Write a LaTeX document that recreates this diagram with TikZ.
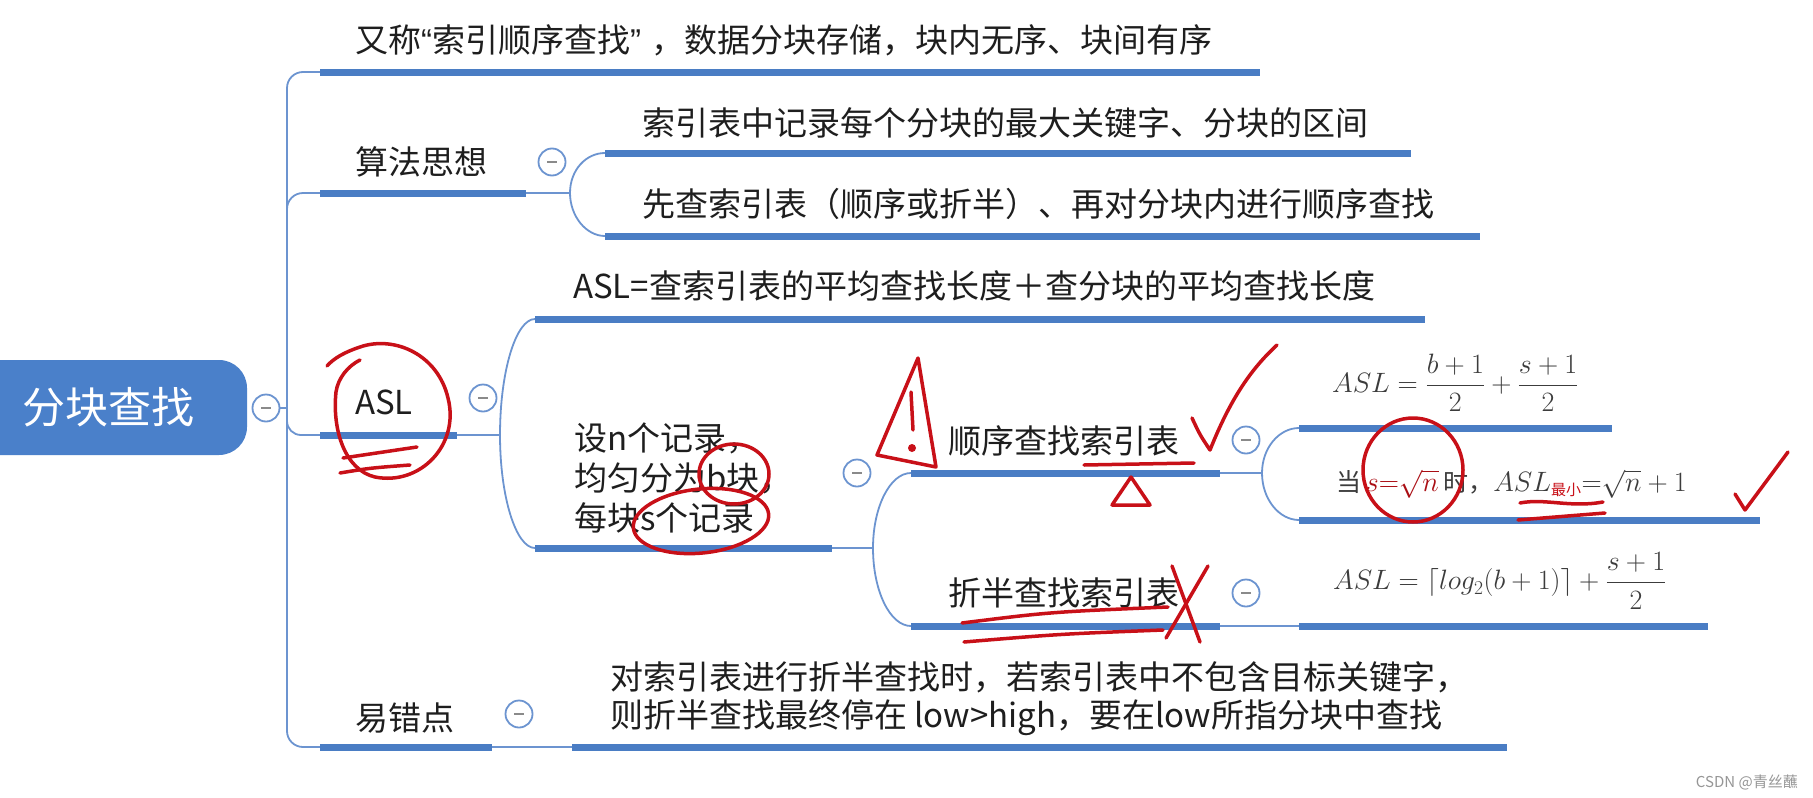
\RequirePackage{fix-cm}
\documentclass[tikz,border=0pt]{standalone}
\usepackage{amsmath}
\usepackage{fontspec}
\newfontfamily\cjk{Noto Sans CJK SC}
\newfontfamily\lat{Liberation Sans}
\definecolor{ublue}{RGB}{74,125,196}
\definecolor{cblue}{RGB}{108,148,208}
\definecolor{rootblue}{RGB}{74,128,202}
\definecolor{tcol}{RGB}{30,30,30}
\definecolor{fgrey}{RGB}{60,60,60}
\definecolor{annred}{RGB}{200,16,24}
\definecolor{wmgrey}{RGB}{150,150,150}
\begin{document}
\begin{tikzpicture}[x=1pt,y=-1pt,
  uline/.style={draw=ublue,line width=7pt},
  conn/.style={draw=cblue,line width=1.8pt},
  topic/.style={anchor=west,inner sep=0pt,text=tcol,font=\cjk\fontsize{33}{40}\selectfont,align=left},
  rootbox/.style={fill=rootblue,rounded corners=28pt,minimum width=277pt,minimum height=95pt,text=white,font=\cjk\fontsize{43}{50}\selectfont,inner sep=0pt},
  cbtn/.style={circle,draw=cblue,line width=1.8pt,fill=white,minimum size=27pt,inner sep=0pt,
    path picture={\draw[fgrey!60,line width=1.6pt] ([xshift=-5pt]path picture bounding box.center) -- ([xshift=5pt]path picture bounding box.center);}},
  fml/.style={anchor=west,inner sep=0pt,text=fgrey,font=\fontsize{28}{32}\selectfont},
  ann/.style={draw=annred,line width=3.5pt,line cap=round,line join=round},
]
\fill[white] (0,0) rectangle (1813,798);
\useasboundingbox (0,0) rectangle (1813,798);

% ---------- coordinates of underlines ----------
\coordinate (J0) at (287,408);
\coordinate (a1) at (320,72);   \coordinate (b1) at (1260,72);
\coordinate (a2) at (320,193);  \coordinate (b2) at (526,193);
\coordinate (J2) at (570,193);
\coordinate (a21) at (605,153); \coordinate (b21) at (1411,153);
\coordinate (a22) at (605,236); \coordinate (b22) at (1480,236);
\coordinate (a3) at (320,435);  \coordinate (b3) at (457,435);
\coordinate (J3) at (500,435);
\coordinate (a31) at (535,319); \coordinate (b31) at (1425,319);
\coordinate (a32) at (535,548); \coordinate (b32) at (832,548);
\coordinate (J32) at (873,548);
\coordinate (a321) at (911,473); \coordinate (b321) at (1220,473);
\coordinate (a322) at (911,626); \coordinate (b322) at (1220,626);
\coordinate (J321) at (1262,473);
\coordinate (a3211) at (1299,428); \coordinate (b3211) at (1612,428);
\coordinate (a3212) at (1299,520); \coordinate (b3212) at (1760,520);
\coordinate (a3221) at (1299,626); \coordinate (b3221) at (1708,626);
\coordinate (a4) at (320,747);  \coordinate (b4) at (492,747);
\coordinate (a41) at (572,747); \coordinate (b41) at (1507,747);

% ---------- root ----------
\node[rootbox] (root) at (108.5,407.5) {分块查找};

% ---------- connectors ----------
\draw[conn,rounded corners=16pt] (J0) -- (J0 |- a1) -- (a1);
\draw[conn,rounded corners=16pt] (J0) -- (J0 |- a2) -- (a2);
\draw[conn,rounded corners=14pt] (J0) -- (J0 |- a3) -- (a3);
\draw[conn,rounded corners=16pt] (J0) -- (J0 |- a4) -- (a4);
\draw[conn] (b2) -- (J2);
\draw[conn] (J2) .. controls +(0,-23) and +(-19,0) .. (a21);
\draw[conn] (J2) .. controls +(0,23) and +(-19,0) .. (a22);
\draw[conn] (b3) -- (J3);
\draw[conn] (J3) .. controls +(0,-64) and +(-19,0) .. (a31);
\draw[conn] (J3) .. controls +(0,62) and +(-19,0) .. (a32);
\draw[conn] (b32) -- (J32);
\draw[conn] (J32) .. controls +(0,-41) and +(-21,0) .. (a321);
\draw[conn] (J32) .. controls +(0,43) and +(-21,0) .. (a322);
\draw[conn] (b321) -- (J321);
\draw[conn] (J321) .. controls +(0,-25) and +(-20,0) .. (a3211);
\draw[conn] (J321) .. controls +(0,26) and +(-20,0) .. (a3212);
\draw[conn] (b322) -- (a3221);
\draw[conn] (b4) -- (a41);

% ---------- underlines ----------
\foreach \u in {1,2,21,22,3,31,32,321,322,3211,3212,3221,4,41}{
  \draw[uline] (a\u) -- (b\u);
}

% ---------- collapse buttons ----------
\node[cbtn] (c0) at (266,408) {};
\draw[conn] (c0.east) -- (J0);
\node[cbtn] (c2) at (552,162) {};
\node[cbtn] (c3) at (483,398) {};
\node[cbtn] (c32) at (857,473) {};
\node[cbtn] (c321) at (1246,440) {};
\node[cbtn] (c322) at (1246,593) {};
\node[cbtn] (c4) at (519,714) {};

% ---------- texts ----------
\node[topic] (t1) at (355,40) {又称{\lat“}索引顺序查找{\lat”\kern10pt}，数据分块存储，块内无序、块间有序};
\node[topic] (t2) at (355,162) {算法思想};
\node[topic] (t21) at (642,123) {索引表中记录每个分块的最大关键字、分块的区间};
\node[topic] (t22) at (642,204) {先查索引表（顺序或折半）、再对分块内进行顺序查找};
\node[topic] (t3) at (355,402) {ASL};
\node[topic] (t31) at (573,286) {ASL=查索引表的平均查找长度＋查分块的平均查找长度};
\node[topic] (t32) at (574,478) {设n个记录，\\均匀分为b块，\\每块s个记录};
\node[topic] (t321) at (948,441) {顺序查找索引表};
\node[topic] (t322) at (948,593) {折半查找索引表};
\node[topic] (t4) at (355,718) {易错点};
\node[topic,font=\cjk\fontsize{33}{38}\selectfont] (t41) at (610,699) {对索引表进行折半查找时，若索引表中不包含目标关键字，\\则折半查找最终停在 low>high，要在low所指分块中查找};

% ---------- formulas ----------
\node[fml] (f1) at (1332,383) {$\displaystyle ASL=\frac{b+1}{2}+\frac{s+1}{2}$};
\node[fml] (f2) at (1336,484) {{\cjk\fontsize{25}{30}\selectfont 当}\,{\color{annred!85!black}$s{=}\sqrt{n}$}\,{\cjk\fontsize{25}{30}\selectfont 时，}$ASL_{\mbox{\cjk\fontsize{15}{15}\selectfont\color{annred}最小}}{=}\sqrt{n}+1$};
\node[fml] (f3) at (1333,581) {$\displaystyle ASL=\lceil log_2(b+1)\rceil+\frac{s+1}{2}$};

% ---------- watermark ----------
\node[anchor=east,inner sep=0pt,text=wmgrey,font=\cjk\fontsize{15}{15}\selectfont] (wm) at (1798,782) {CSDN @青丝蘸};

% ---------- red annotations ----------
\draw[ann] (360,360) .. controls (348,366) and (338,378) .. (336,392)
  .. controls (332,430) and (345,470) .. (375,477)
  .. controls (420,486) and (460,445) .. (448,398)
  .. controls (438,355) and (395,335) .. (360,347)
  .. controls (345,352) and (334,358) .. (327,366);
\draw[ann] (343,458) -- (417,447);
\draw[ann] (340,473) .. controls (370,468) .. (410,465);
\draw[ann] (734,474) ellipse [x radius=35pt, y radius=30pt];
\draw[ann,rotate around={6:(701,521)}] (701,521) ellipse [x radius=68pt, y radius=32pt];
\draw[ann] (918,358) -- (877,455) -- (936,467) -- cycle;
\draw[ann] (911,392) -- (913,430);
\fill[annred] (912,448) circle (4pt);
\draw[ann] (1192,418) .. controls (1200,435) .. (1210,450) .. controls (1230,400) and (1250,370) .. (1277,345);
\draw[ann] (1084,465) -- (1194,463);
\draw[ann] (1131,477) -- (1112,505) -- (1150,505) -- cycle;
\draw[ann] (962,623) .. controls (1050,612) .. (1168,607);
\draw[ann] (964,642) .. controls (1060,634) .. (1163,630);
\draw[ann] (1172,566) -- (1200,642);
\draw[ann] (1208,566) -- (1166,638);
\draw[ann] (1413,470) ellipse [x radius=50pt, y radius=52pt];
\draw[ann] (1520,503) .. controls (1545,498) and (1570,508) .. (1603,502);
\draw[ann] (1518,520) -- (1605,513);
\draw[ann] (1735,494) -- (1745,510) -- (1788,452);
\end{tikzpicture}
\end{document}
